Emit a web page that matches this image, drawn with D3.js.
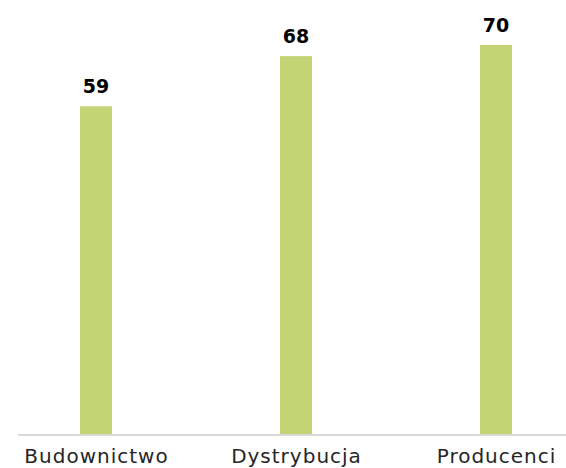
<!DOCTYPE html>
<html>
<head>
<meta charset="utf-8">
<script src="https://cdn.jsdelivr.net/npm/d3@7"></script>
<style>
  body { margin: 0; background: #fff; }
</style>
</head>
<body>
<div id="chart"></div>
<script>
const categories = ["Budownictwo", "Dystrybucja", "Producenci"];
const values = [59, 68, 70];

const w = 566;
const h = 468;
const baseY = 435;
const barW = 32;

const svg = d3.select("#chart")
   .append("svg")
   .attr("width", w)
   .attr("height", h);

const xScale = d3.scalePoint()
   .domain(categories)
   .range([96, 496]);

const yScale = d3.scaleLinear()
   .domain([0, 70])
   .range([baseY, 45]);

// bars
svg.selectAll("rect.bar")
   .data(values)
   .enter()
   .append("rect")
   .attr("class", "bar")
   .attr("x", (d, i) => xScale(categories[i]) - barW / 2)
   .attr("y", d => yScale(d))
   .attr("width", barW)
   .attr("height", d => baseY - yScale(d))
   .style("fill", "#c3d474");

// value labels
svg.selectAll("text.val")
   .data(values)
   .enter()
   .append("text")
   .attr("class", "val")
   .attr("x", (d, i) => xScale(categories[i]))
   .attr("y", d => yScale(d) - 13)
   .attr("text-anchor", "middle")
   .style("font-family", "DejaVu Sans")
   .style("font-weight", "bold")
   .style("font-size", "19px")
   .style("fill", "#000")
   .text(d => d);

// axis
const xAxis = d3.axisBottom(xScale).tickSize(0).tickPadding(14);
const gx = svg.append("g")
   .attr("transform", "translate(0," + baseY + ")")
   .call(xAxis);
gx.select(".domain")
   .attr("d", "M18,0H566")
   .style("stroke", "#d9d9d9")
   .style("stroke-width", 2);
gx.selectAll(".tick text")
   .style("font-family", "DejaVu Sans")
   .style("font-size", "20px")
   .style("letter-spacing", "1px")
   .style("fill", "#262626");
</script>
</body>
</html>
